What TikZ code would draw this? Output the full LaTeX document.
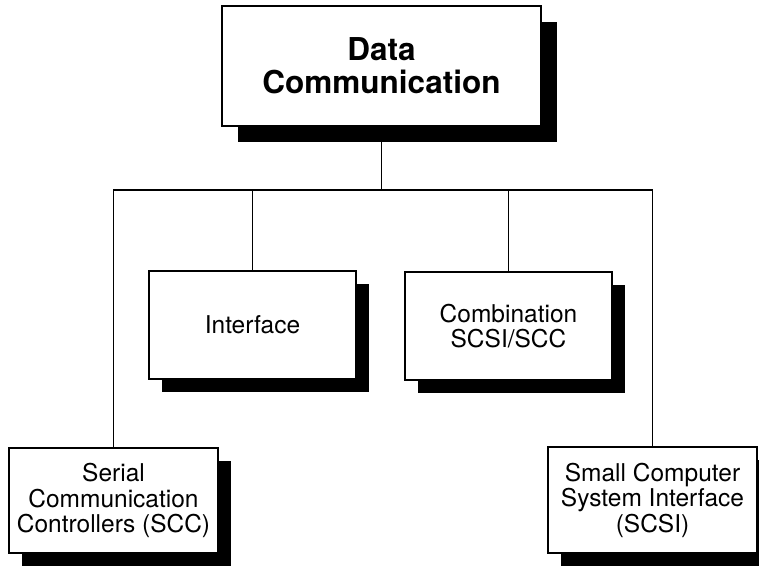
\documentclass[tikz,border=0pt]{standalone}
\usepackage{fontspec}
\setmainfont{TeX Gyre Heros}
\usetikzlibrary{shadows}

\tikzset{
    block/.style={draw, fill=white, line width=1.5pt, align=center, inner sep=0pt,
        font=\fontsize{24.5}{25.5}\selectfont,
        drop shadow={shadow xshift=#1, shadow yshift=-#1, fill=black, opacity=1}},
    block/.default=13pt,
    wire/.style={line width=1.2pt},
}

\begin{document}
\begin{tikzpicture}[x=1pt, y=-1pt]
    \useasboundingbox (0, 0) rectangle (759, 567);
    \clip (0, 0) rectangle (759, 567);

    \node[block=16pt, minimum width=319pt, minimum height=120pt,
        font=\bfseries\fontsize{31.5}{33}\selectfont] (data) at (381.5, 66) {Data\\Communication};
    \node[block, minimum width=207pt, minimum height=108pt] (iface) at (252.5, 325) {Interface};
    \node[block, minimum width=207pt, minimum height=108pt] (combo) at (508.5, 326) {Combination\\SCSI/SCC};
    \node[block, minimum width=209pt, minimum height=105pt] (scc) at (113.5, 500.5) {Serial\\Communication\\Controllers (SCC)};
    \node[block, minimum width=209pt, minimum height=106pt] (scsi) at (652.5, 500) {Small Computer\\System Interface\\(SCSI)};

    \coordinate (bus) at (381.5, 190);
    \draw[wire] (data.south) -- (bus);
    \foreach \n in {scc, iface, combo, scsi} {
        \draw[wire] (\n.north) |- (bus);
    }
\end{tikzpicture}
\end{document}
